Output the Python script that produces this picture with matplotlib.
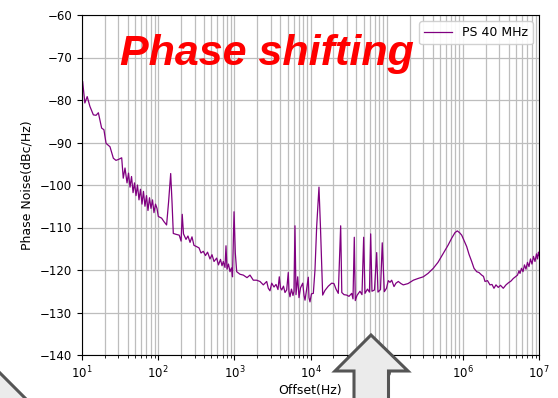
import numpy as np
import matplotlib
matplotlib.use("Agg")
import matplotlib.pyplot as plt
from matplotlib.patches import Polygon

# Offset frequency (Hz) and phase noise (dBc/Hz)
freq_hz = [
    10.2, 10.9, 11.7, 12.7, 14.1, 15.3, 16.4, 18.1, 19.4, 20.7,
    23.3, 25.8, 27.9, 30, 33.2, 34.8, 36.7, 39, 40.8, 42.7,
    44.7, 46.8, 48.9, 51.2, 53.5, 56, 58.6, 61.3, 64.1, 67.1,
    70.3, 73.5, 76.9, 80.5, 84.3, 88.1, 92.3, 96.5, 100.4, 111,
    119, 129, 137, 146, 152, 158, 171, 189, 200, 207,
    215, 232, 246, 262, 278, 295, 320, 344, 365, 391,
    418, 445, 479, 509, 541, 586, 619, 658, 689, 716,
    754, 777, 801, 838, 877, 918, 946, 991, 1030, 1074,
    1186, 1312, 1467, 1606, 1775, 1966, 2173, 2401, 2660, 2792,
    2938, 3095, 3318, 3524, 3742, 3891, 4036, 4188, 4419, 4624,
    4866, 5108, 5214, 5377, 5623, 5888, 6070, 6252, 6451, 6792,
    7063, 7396, 7907, 8222, 8472, 8851, 9354, 9550, 9840, 10300,
    10890, 11450, 12050, 12920, 13520, 14450, 15490, 17140, 18970, 20330,
    21630, 23170, 24890, 25760, 27540, 29850, 31990, 34750, 36140, 37580,
    38730, 40740, 44590, 47420, 49890, 51880, 55960, 59430, 61660, 64120,
    69180, 73960, 76910, 82990, 87500, 93110, 99540, 105000, 110600, 116400,
    124800, 132500, 142200, 154200, 165200, 190500, 223900, 257700, 302700, 349100,
    409300, 472000, 553700, 638300, 714500, 789000, 845600, 903700, 966400, 1035000,
    1124000, 1205000, 1307000, 1402000, 1521000, 1630000, 1770000, 1867000, 1954000, 2108000,
    2271000, 2414000, 2564000, 2724000, 2919000, 3119000, 3396000, 3686000, 3975000, 4288000,
    4595000, 4909000, 5220000, 5464000, 5630000, 5890000, 6165000, 6447000, 6745000, 7060000,
    7386000, 7728000, 8085000, 8465000, 8857000, 9270000, 9570000, 9840000, 10000000,
]
noise_dbc = [
    -75.7, -80.7, -79.2, -81.5, -83.5, -83.6, -83.0, -86.6, -87.0, -90.2,
    -91.0, -93.7, -94.2, -94.0, -93.6, -98.4, -96.0, -99.5, -97.2, -100.5,
    -98.0, -101.8, -99.5, -102.5, -100.0, -103.5, -101.0, -104.5, -101.5, -105.0,
    -102.5, -106.0, -103.0, -105.5, -103.5, -106.5, -104.5, -105.5, -107.4, -107.8,
    -108.6, -109.4, -104.0, -97.3, -104.0, -111.4, -111.6, -111.8, -113.2, -106.9,
    -111.5, -112.8, -112.0, -113.5, -112.2, -114.2, -114.5, -114.8, -116.0, -115.6,
    -116.6, -115.8, -117.4, -116.4, -118.0, -117.2, -118.8, -117.5, -119.0, -118.0,
    -119.4, -114.3, -119.8, -118.6, -120.4, -119.5, -121.6, -106.3, -116.0, -120.4,
    -121.0, -121.2, -121.8, -121.2, -122.4, -122.4, -122.7, -123.5, -122.7, -124.3,
    -124.9, -123.1, -124.0, -123.4, -124.6, -121.6, -124.2, -124.7, -123.8, -125.3,
    -124.7, -120.6, -125.0, -126.3, -124.5, -126.0, -125.0, -109.6, -125.8, -121.6,
    -126.5, -124.2, -123.1, -126.0, -127.1, -124.8, -121.7, -126.5, -127.5, -125.6,
    -125.5, -120.0, -109.8, -100.5, -110.0, -125.9, -124.8, -123.8, -123.1, -123.2,
    -124.5, -125.5, -109.6, -125.3, -125.8, -125.9, -126.2, -125.5, -126.8, -112.3,
    -127.2, -126.0, -125.0, -125.8, -112.3, -125.5, -124.5, -125.2, -111.5, -125.0,
    -124.7, -115.9, -125.2, -124.6, -113.6, -125.1, -124.3, -122.5, -122.9, -122.4,
    -123.9, -123.1, -122.7, -123.2, -123.5, -123.2, -122.4, -122.0, -121.6, -120.8,
    -119.6, -118.2, -116.1, -114.2, -112.5, -111.2, -110.8, -111.2, -111.8, -113.0,
    -114.5, -116.3, -118.0, -119.6, -120.4, -120.6, -121.2, -121.5, -122.7, -122.5,
    -123.5, -123.4, -124.3, -123.5, -124.1, -123.6, -124.3, -123.5, -123.0, -122.6,
    -122.0, -121.6, -121.2, -120.2, -120.8, -119.6, -120.4, -118.8, -119.8, -118.2,
    -119.2, -117.4, -118.6, -116.8, -118.0, -116.2, -117.4, -115.8, -116.6,
]
series_label = "PS 40 MHz"
title_text = "Phase shifting"
x_label = "Offset(Hz)"
y_label = "Phase Noise(dBc/Hz)"
y_ticks = [-140, -130, -120, -110, -100, -90, -80, -70, -60]

W, H = 558, 398
fig = plt.figure(figsize=(W / 100, H / 100), dpi=100)
ax = fig.add_axes([82 / W, 1 - 355 / H, (539 - 82) / W, (355 - 15) / H])

ax.semilogx(freq_hz, noise_dbc, color="purple", lw=0.9, label=series_label)
ax.set_xlim(10, 1e7)
ax.set_ylim(-140, -60)
ax.set_yticks(y_ticks)
ax.grid(True, which="major", color="#bdbdbd", lw=0.9)
ax.grid(True, which="minor", axis="x", color="#bdbdbd", lw=0.9)
ax.tick_params(labelsize=8.5, length=3.5)
ax.set_xlabel(x_label, fontsize=9, labelpad=2)
ax.set_ylabel(y_label, fontsize=9, labelpad=5)
ax.legend(loc="upper right", fontsize=9, handlelength=2.2, framealpha=0.9)

fig.text(120 / W, 1 - 65 / H, title_text, color="red", fontsize=31,
         fontweight="bold", fontstyle="italic", family="Liberation Sans",
         ha="left", va="baseline")

def px(pts):
    return [(x / W, 1 - y / H) for x, y in pts]

arrow = Polygon(px([(371, 335), (408, 371), (388.5, 371), (388.5, 410),
                    (354, 410), (354, 371), (335, 371)]),
                closed=True, transform=fig.transFigure, facecolor="#ebebeb",
                edgecolor="#555555", lw=2.2, clip_on=False, zorder=10)
fig.patches.append(arrow)
corner = Polygon(px([(-5, 368), (27, 400), (-5, 400)]), closed=True,
                 transform=fig.transFigure, facecolor="#ebebeb",
                 edgecolor="#555555", lw=2.2, clip_on=False, zorder=10)
fig.patches.append(corner)

fig.savefig("out.png", dpi=100)
